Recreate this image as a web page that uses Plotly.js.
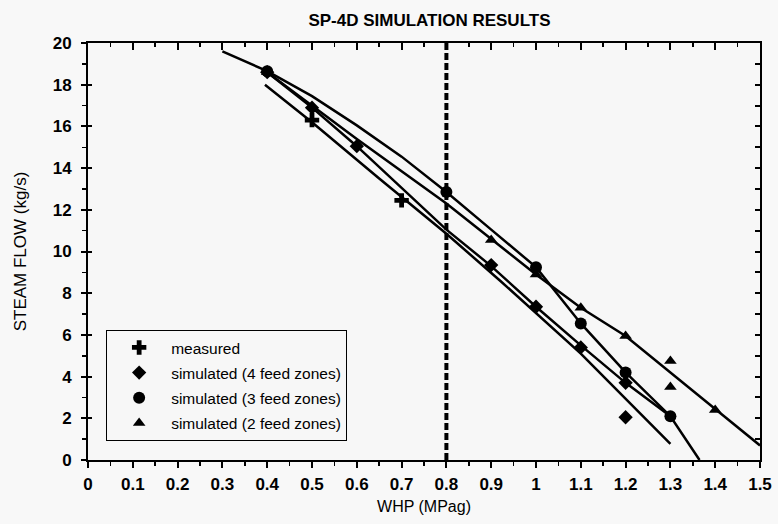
<!DOCTYPE html>
<html>
<head>
<meta charset="utf-8">
<script src="https://cdn.plot.ly/plotly-3.0.1.min.js"></script>
<style>html,body{margin:0;padding:0;background:#f8f8f8;}#chart{width:778px;height:524px;}</style>
</head>
<body>
<div id="chart"></div>
<script>
// Point data (WHP in MPag, steam flow in kg/s)
const measuredWHP = [0.5, 0.7];
const measuredFlow = [16.3, 12.45];
const sim4WHP = [0.4, 0.5, 0.6, 0.9, 1.0, 1.1, 1.2, 1.2];
const sim4Flow = [18.6, 16.9, 15.05, 9.35, 7.35, 5.4, 3.7, 2.05];
const sim3WHP = [0.4, 0.8, 1.0, 1.1, 1.2, 1.3];
const sim3Flow = [18.65, 12.85, 9.25, 6.55, 4.2, 2.1];
const sim2WHP = [0.4, 0.9, 1.0, 1.1, 1.2, 1.3, 1.3, 1.4];
const sim2Flow = [18.6, 10.55, 8.9, 7.3, 5.95, 4.75, 3.5, 2.4];

// Curves
const fitMeasWHP = [0.395, 0.5, 0.65, 0.8, 0.92, 1.1, 1.3];
const fitMeasFlow = [18.0, 16.2, 13.5, 10.85, 8.6, 5.1, 0.77];
const curve4WHP = [0.4, 0.5, 0.6, 0.7, 0.8, 0.9, 1.0, 1.1, 1.2, 1.3];
const curve4Flow = [18.6, 16.9, 15.05, 13.05, 11.05, 9.3, 7.35, 5.5, 3.7, 2.1];
const curve3WHP = [0.3, 0.4, 0.5, 0.6, 0.7, 0.8, 0.9, 1.0, 1.1, 1.2, 1.3, 1.365];
const curve3Flow = [19.6, 18.65, 17.45, 16.05, 14.55, 12.85, 11.05, 9.25, 6.55, 4.2, 2.1, 0];
const curve2WHP = [0.4, 0.6, 0.8, 0.9, 1.0, 1.1, 1.2, 1.4, 1.5];
const curve2Flow = [18.6, 15.4, 12.3, 10.6, 8.9, 7.3, 5.95, 2.45, 0.7];

const refWHP = 0.8;
const xTickVals = [0, 0.1, 0.2, 0.3, 0.4, 0.5, 0.6, 0.7, 0.8, 0.9, 1, 1.1, 1.2, 1.3, 1.4, 1.5];
const xTickText = ['0', '0.1', '0.2', '0.3', '0.4', '0.5', '0.6', '0.7', '0.8', '0.9', '1', '1.1', '1.2', '1.3', '1.4', '1.5'];
const yTickVals = [0, 2, 4, 6, 8, 10, 12, 14, 16, 18, 20];

const FONT = 'Liberation Sans, Arial, sans-serif';
const lineStyle = {color: '#000', width: 2.5};

function curve(x, y) {
  return {x: x, y: y, mode: 'lines', line: lineStyle, showlegend: false, hoverinfo: 'skip'};
}

const traces = [
  curve(fitMeasWHP, fitMeasFlow),
  curve(curve4WHP, curve4Flow),
  curve(curve3WHP, curve3Flow),
  curve(curve2WHP, curve2Flow),
  {x: measuredWHP, y: measuredFlow, mode: 'markers', name: 'measured', legendgroup: 'a',
   marker: {symbol: 'cross', size: 12, color: '#000'}},
  {x: sim4WHP, y: sim4Flow, mode: 'markers', name: 'simulated (4 feed zones)', legendgroup: 'b',
   marker: {symbol: 'diamond', size: 11, color: '#000'}},
  {x: sim3WHP, y: sim3Flow, mode: 'markers', name: 'simulated (3 feed zones)', legendgroup: 'c',
   marker: {symbol: 'circle', size: 12, color: '#000'}},
  {x: sim2WHP, y: sim2Flow, mode: 'markers', name: 'simulated (2 feed zones)', legendgroup: 'd',
   marker: {symbol: 'triangle-up', size: 11, color: '#000'}},
  {x: [], y: [], xaxis: 'x2', yaxis: 'y2', showlegend: false},
  {x: [], y: [], xaxis: 'x', yaxis: 'y3', showlegend: false}
];

const layout = {
  width: 778, height: 524,
  margin: {l: 88, r: 18, t: 43, b: 64},
  paper_bgcolor: '#f8f8f8',
  plot_bgcolor: '#f7f7f7',
  font: {family: FONT, color: '#000', size: 15},
  title: {text: 'SP-4D SIMULATION RESULTS', x: 0.552, xanchor: 'center', y: 0.962, yanchor: 'middle',
          font: {family: FONT, size: 17, weight: 'bold'}},
  showlegend: true,
  legend: {x: 0.027, y: 0.312, xanchor: 'left', yanchor: 'top',
           bgcolor: 'rgba(0,0,0,0)', bordercolor: '#000', borderwidth: 1,
           font: {family: FONT, size: 15.5}, itemwidth: 54, tracegroupgap: 2},
  xaxis: {range: [0, 1.5], showgrid: false, zeroline: false, showline: true, linecolor: '#000', linewidth: 2,
          ticks: 'outside', ticklen: 6, tickwidth: 2, tickcolor: '#000',
          tickvals: xTickVals, ticktext: xTickText, ticklabelstandoff: 2,
          tickfont: {family: FONT, size: 17, weight: 'bold'},
          minor: {dtick: 0.05, ticks: 'outside', ticklen: 4, tickwidth: 1.5, tickcolor: '#000', showgrid: false},
          title: {text: 'WHP (MPag)', standoff: 7, font: {family: FONT, size: 16}}},
  yaxis: {range: [0, 20], showgrid: false, zeroline: false, showline: true, linecolor: '#000', linewidth: 2,
          ticks: 'outside', ticklen: 5, tickwidth: 2, tickcolor: '#000',
          tickvals: yTickVals, ticklabelstandoff: 6,
          tickfont: {family: FONT, size: 17, weight: 'bold'},
          minor: {dtick: 1, ticks: 'outside', ticklen: 4, tickwidth: 1.5, tickcolor: '#000', showgrid: false},
          title: {text: 'STEAM FLOW (kg/s)', standoff: 22, font: {family: FONT, size: 17}}},
  xaxis2: {range: [0, 1.5], overlaying: 'x', side: 'top', anchor: 'y2', showgrid: false, zeroline: false,
           showline: true, linecolor: '#000', linewidth: 2.5,
           ticks: 'inside', ticklen: 7, tickwidth: 2, tickcolor: '#000', dtick: 0.1, showticklabels: false,
           minor: {dtick: 0.05, ticks: 'inside', ticklen: 4, tickwidth: 1.5, tickcolor: '#000', showgrid: false}},
  yaxis2: {range: [0, 20], overlaying: 'y', side: 'right', anchor: 'x2', showgrid: false, zeroline: false,
           showline: true, linecolor: '#000', linewidth: 2,
           ticks: 'inside', ticklen: 5, tickwidth: 2, tickcolor: '#000', dtick: 1, showticklabels: false},
  yaxis3: {range: [0, 20], overlaying: 'y', side: 'left', anchor: 'x', showgrid: false, zeroline: false,
           showline: false, ticks: 'inside', ticklen: 4, tickwidth: 2, tickcolor: '#000',
           tickvals: yTickVals, showticklabels: false},
  shapes: [{type: 'line', xref: 'x', yref: 'y', x0: refWHP, x1: refWHP, y0: 0, y1: 20,
            line: {color: '#000', width: 4, dash: '7px,3px'}}]
};

Plotly.newPlot('chart', traces, layout, {displayModeBar: false, staticPlot: true});
</script>
</body>
</html>
